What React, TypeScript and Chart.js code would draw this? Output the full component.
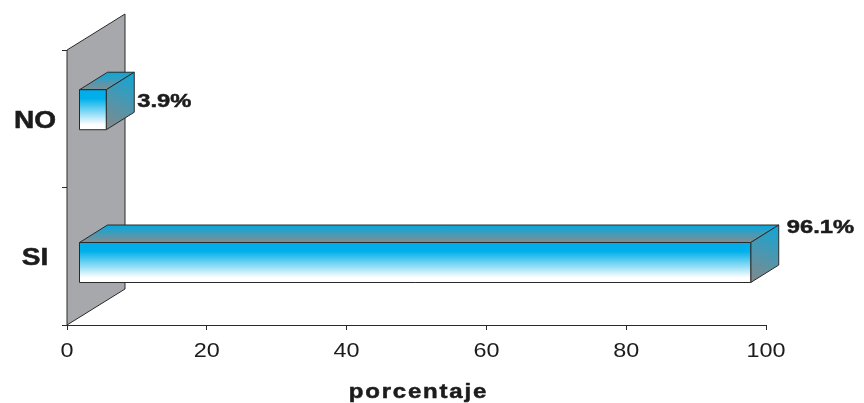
import React, { useEffect, useRef } from 'react';
import { Chart, registerables } from 'chart.js';

Chart.register(...registerables);

// Survey answers and their share of respondents (%)
const categories = ['NO', 'SI'];
const percentages = [3.9, 96.1];
const valueLabels = ['3.9%', '96.1%'];
const xTickValues = [0, 20, 40, 60, 80, 100];
const xTitle = 'porcentaje';

const FONT = '"Liberation Sans", Arial, Helvetica, sans-serif';
const INK = '#1c1c1c';
const EDGE = '#2a2a2a';

// Oblique projection of the 3-D scene: depth of the back wall, where the bars
// start in depth, and how deep each bar is.
const WALL = { dx: 58, dy: -36 };
const BAR_FRONT = { dx: 12, dy: -7.5 };
const BAR_DEPTH = { dx: 28, dy: -17.5 };

function polygon(ctx: CanvasRenderingContext2D, pts: number[][], fill: string | CanvasGradient) {
  ctx.beginPath();
  pts.forEach(([px, py], k) => (k ? ctx.lineTo(px, py) : ctx.moveTo(px, py)));
  ctx.closePath();
  ctx.fillStyle = fill;
  ctx.fill();
  ctx.stroke();
}

// Text in a horizontally widened face; y is the vertical centre of the capitals
function wideText(
  ctx: CanvasRenderingContext2D,
  text: string,
  x: number,
  y: number,
  opts: { size: number; bold?: boolean; align: 'left' | 'center' | 'right'; stretch: number; spacing?: number }
) {
  const spacing = opts.spacing ?? 0;
  ctx.save();
  ctx.font = `${opts.bold ? 'bold ' : ''}${opts.size}px ${FONT}`;
  (ctx as any).letterSpacing = `${spacing}px`;
  ctx.fillStyle = INK;
  ctx.strokeStyle = INK;
  ctx.textAlign = 'left';
  ctx.textBaseline = 'alphabetic';
  const w = (ctx.measureText(text).width - spacing) * opts.stretch;
  const left = opts.align === 'left' ? x : opts.align === 'center' ? x - w / 2 : x - w;
  ctx.translate(left, y + opts.size * 0.358);
  ctx.scale(opts.stretch, 1);
  ctx.fillText(text, 0, 0);
  if (opts.bold) {
    // heavier weight for the bold captions
    ctx.lineWidth = 0.5;
    ctx.strokeText(text, 0, 0);
  }
  ctx.restore();
}

// Gray back wall standing on the category axis
const backWall = {
  id: 'backWall',
  beforeDatasetsDraw(chart: any) {
    const { ctx, chartArea: a } = chart;
    ctx.save();
    ctx.strokeStyle = EDGE;
    ctx.lineWidth = 1;
    polygon(
      ctx,
      [
        [a.left, a.top],
        [a.left + WALL.dx, a.top + WALL.dy],
        [a.left + WALL.dx, a.bottom + WALL.dy],
        [a.left, a.bottom],
      ],
      '#a7a8ab'
    );
    ctx.restore();
  },
};

// Draws each bar as a box (front, top and end faces) plus its value label
const boxBars = {
  id: 'boxBars',
  afterDatasetsDraw(chart: any) {
    const { ctx } = chart;
    const meta = chart.getDatasetMeta(0);
    ctx.save();
    ctx.strokeStyle = EDGE;
    ctx.lineWidth = 1;
    meta.data.forEach((bar: any, i: number) => {
      const { x, y, base, height } = bar.getProps(['x', 'y', 'base', 'height'], true);
      const x0 = base + BAR_FRONT.dx;
      const x1 = x + BAR_FRONT.dx;
      const y0 = y - height / 2 + BAR_FRONT.dy;
      const y1 = y + height / 2 + BAR_FRONT.dy;
      const { dx, dy } = BAR_DEPTH;

      const topGrad = ctx.createLinearGradient(0, y0, 0, y0 + dy);
      topGrad.addColorStop(0, '#858c90');
      topGrad.addColorStop(1, '#02a9df');
      polygon(ctx, [[x0, y0], [x1, y0], [x1 + dx, y0 + dy], [x0 + dx, y0 + dy]], topGrad);

      const sideGrad = ctx.createLinearGradient(x1 + dx, y0 + dy, x1, y1);
      sideGrad.addColorStop(0, '#10a6d6');
      sideGrad.addColorStop(1, '#85888a');
      polygon(ctx, [[x1, y0], [x1 + dx, y0 + dy], [x1 + dx, y1 + dy], [x1, y1]], sideGrad);

      const frontGrad = ctx.createLinearGradient(0, y0, 0, y1);
      frontGrad.addColorStop(0, '#00adea');
      frontGrad.addColorStop(0.22, '#00b0ea');
      frontGrad.addColorStop(0.88, '#ffffff');
      frontGrad.addColorStop(1, '#ffffff');
      polygon(ctx, [[x0, y0], [x1, y0], [x1, y1], [x0, y1]], frontGrad);

      // value label: beside the end face of short bars, on the back corner of long ones
      const short = percentages[i] < 10;
      const lx = x1 + dx + (short ? 3 : 8);
      const ly = short ? (y0 + y1 + dy) / 2 - 1 : y0 + dy + 1;
      wideText(ctx, valueLabels[i], lx, ly, { size: 19, bold: true, align: 'left', stretch: 1.25 });
    });
    ctx.restore();
  },
};

// Tick labels and axis title, set in the same widened lettering
const axisText = {
  id: 'axisText',
  afterDraw(chart: any) {
    const { ctx } = chart;
    const { x, y } = chart.scales;
    x.ticks.forEach((t: any, i: number) => {
      wideText(ctx, String(t.value), x.getPixelForTick(i), x.top + 24.5, { size: 20, align: 'center', stretch: 1.17 });
    });
    y.ticks.forEach((t: any, i: number) => {
      wideText(ctx, y.getLabelForValue(t.value), y.right - 32, y.getPixelForTick(i) + 1, {
        size: 23,
        bold: true,
        align: 'center',
        stretch: 1.22,
      });
    });
    wideText(ctx, xTitle, (x.left + x.right) / 2 + 1, x.bottom - 11.7, {
      size: 20,
      bold: true,
      align: 'center',
      stretch: 1.2,
      spacing: 1.5,
    });
  },
};

export default function App() {
  const canvasRef = useRef<HTMLCanvasElement | null>(null);

  useEffect(() => {
    const canvas = canvasRef.current;
    if (!canvas) return;

    const chart = new Chart(canvas, {
      type: 'bar',
      data: {
        labels: categories,
        datasets: [
          {
            label: xTitle,
            data: percentages.map((v, i) => ({ x: v, y: i })),
            xAxisID: 'x',
            yAxisID: 'yb',
            backgroundColor: 'rgba(0,0,0,0)',
            borderWidth: 0,
            barThickness: 40,
          } as any,
        ],
      },
      options: {
        indexAxis: 'y',
        animation: false,
        responsive: false,
        devicePixelRatio: 1,
        events: [],
        layout: { padding: { top: 50, right: 98, left: 0, bottom: 0 } },
        plugins: {
          legend: { display: false },
          tooltip: { enabled: false },
        },
        scales: {
          x: {
            type: 'linear',
            position: 'bottom',
            min: xTickValues[0],
            max: xTickValues[xTickValues.length - 1],
            ticks: { stepSize: xTickValues[1] - xTickValues[0], display: false },
            grid: { drawOnChartArea: false, drawTicks: true, tickLength: 5, color: EDGE, lineWidth: 1 },
            border: { display: true, color: EDGE, width: 1 },
            afterFit(scale: any) {
              scale.height = 78;
            },
          },
          y: {
            type: 'category',
            position: 'left',
            labels: categories,
            offset: true,
            ticks: { display: false },
            grid: { offset: true, drawOnChartArea: false, drawTicks: true, tickLength: 5, color: EDGE, lineWidth: 1 },
            border: { display: true, color: EDGE, width: 1 },
            afterFit(scale: any) {
              scale.width = 67;
            },
          },
          // depth placement of the boxes along the category direction
          yb: {
            type: 'linear',
            axis: 'y',
            display: false,
            reverse: true,
            offset: false,
            min: -0.44,
            max: 1.36,
          },
        } as any,
      },
      plugins: [backWall, boxBars, axisText],
    });

    return () => chart.destroy();
  }, []);

  return (
    <div style={{ position: 'absolute', left: 0, top: 0, width: 864, height: 403, background: '#ffffff' }}>
      <canvas ref={canvasRef} width={864} height={403} />
    </div>
  );
}
